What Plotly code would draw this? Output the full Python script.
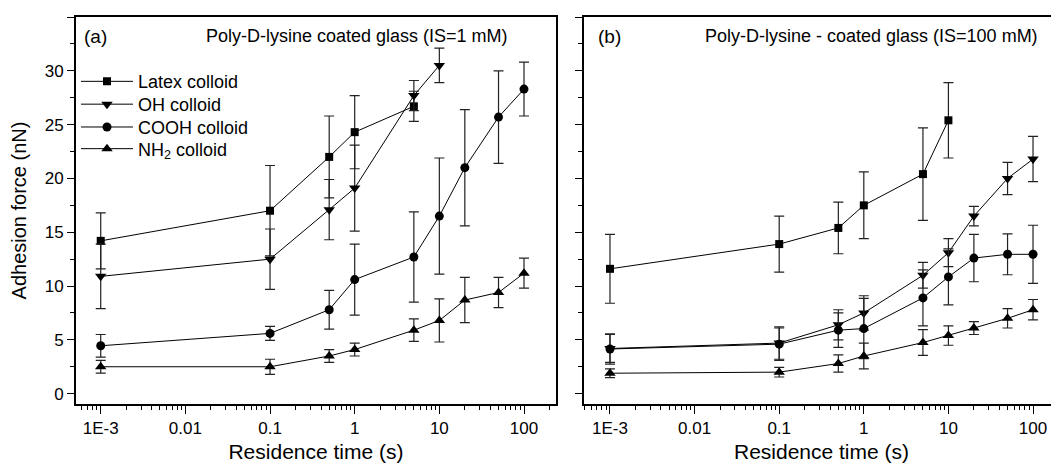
import plotly.graph_objects as go

# residence times (s)
t_all = [0.001, 0.1, 0.5, 1, 5, 10, 20, 50, 100]
t_latex_a = [0.001, 0.1, 0.5, 1, 5]
t_oh_a = [0.001, 0.1, 0.5, 1, 5, 10]
t_latex_b = [0.001, 0.1, 0.5, 1, 5, 10]

# (a) IS = 1 mM
latex_a = [14.2, 17.0, 22.0, 24.3, 26.7]
latex_a_err = [2.6, 4.2, 3.8, 3.4, 1.4]
oh_a = [10.9, 12.5, 17.1, 19.1, 27.7, 30.5]
oh_a_err = [3.0, 2.8, 2.8, 4.0, 1.4, 1.6]
cooh_a = [4.45, 5.6, 7.8, 10.6, 12.7, 16.5, 21.0, 25.7, 28.3]
cooh_a_err = [1.05, 0.65, 1.8, 3.3, 4.2, 5.4, 5.4, 4.3, 2.5]
nh2_a = [2.5, 2.5, 3.5, 4.1, 5.9, 6.8, 8.7, 9.4, 11.2]
nh2_a_err = [0.6, 0.7, 0.6, 0.6, 1.05, 2.0, 2.1, 1.4, 1.4]

# (b) IS = 100 mM
latex_b = [11.6, 13.9, 15.4, 17.5, 20.4, 25.4]
latex_b_err = [3.2, 2.6, 2.4, 3.1, 4.3, 3.5]
oh_b = [4.2, 4.7, 6.4, 7.5, 11.0, 13.1, 16.5, 20.0, 21.8]
oh_b_err = [1.3, 1.5, 1.4, 1.6, 1.2, 1.3, 0.9, 1.5, 2.1]
cooh_b = [4.15, 4.6, 5.9, 6.05, 8.9, 10.85, 12.6, 12.95, 12.95]
cooh_b_err = [1.4, 1.5, 1.6, 2.8, 2.6, 2.6, 2.2, 1.9, 2.7]
nh2_b = [1.9, 2.0, 2.8, 3.5, 4.75, 5.4, 6.1, 7.0, 7.8]
nh2_b_err = [0.4, 0.45, 0.8, 1.2, 1.2, 0.9, 0.6, 0.9, 0.95]

names = ['Latex colloid', 'OH colloid', 'COOH colloid', 'NH<sub>2</sub> colloid']
symbols = ['square', 'triangle-down', 'circle', 'triangle-up']
sizes = [8, 10, 9, 10]

tick_vals = [0.001, 0.01, 0.1, 1, 10, 100]
tick_text = ['1E-3', '0.01', '0.1', '1', '10', '100']

FONT = 'Liberation Sans, Arial, sans-serif'

panel_a = [(t_latex_a, latex_a, latex_a_err), (t_oh_a, oh_a, oh_a_err),
           (t_all, cooh_a, cooh_a_err), (t_all, nh2_a, nh2_a_err)]
panel_b = [(t_latex_b, latex_b, latex_b_err), (t_all, oh_b, oh_b_err),
           (t_all, cooh_b, cooh_b_err), (t_all, nh2_b, nh2_b_err)]

# one legend box per entry so the row spacing can match the original
legend_ids = ['legend', 'legend2', 'legend3', 'legend4']
legend_y = [0.833, 0.774, 0.715, 0.659]

fig = go.Figure()
for panel, xa, ya, show in [(panel_a, 'x', 'y', True), (panel_b, 'x2', 'y2', False)]:
    for i, (tx, vals, errs) in enumerate(panel):
        fig.add_trace(go.Scatter(
            x=tx, y=vals, xaxis=xa, yaxis=ya, name=names[i], showlegend=show,
            legend=legend_ids[i], mode='lines+markers',
            line=dict(color='black', width=1),
            marker=dict(symbol=symbols[i], size=sizes[i], color='black'),
            error_y=dict(type='data', array=errs, color='#222', thickness=1.2, width=5),
        ))

xcommon = dict(type='log', showline=True, linewidth=2, linecolor='black', mirror=True,
               ticks='outside', ticklen=8, tickwidth=1.2, tickcolor='black',
               tickvals=tick_vals, ticktext=tick_text, showgrid=False, zeroline=False,
               minor=dict(ticks='outside', ticklen=4, tickwidth=1, tickcolor='black', dtick='D1', showgrid=False),
               tickfont=dict(size=17, color='black'),
               title=dict(text='Residence time (s)', font=dict(size=21, color='black'), standoff=7))
ycommon = dict(range=[-0.96, 35], showline=True, linewidth=2, linecolor='black',
               ticks='outside', ticklen=7, tickwidth=1.2, tickcolor='black',
               dtick=5, tick0=0, showgrid=False, zeroline=False,
               minor=dict(ticks='outside', ticklen=4, tickwidth=1, tickcolor='black', dtick=2.5, tick0=0, showgrid=False),
               tickfont=dict(size=17, color='black'))

legend_style = dict(x=0.0, xanchor='left', yanchor='middle', bgcolor='rgba(0,0,0,0)',
                    font=dict(size=18, color='black'), itemwidth=52)

# page body adds an 8px offset, so margins are shifted to compensate
fig.update_layout(
    width=1059, height=464,
    margin=dict(l=68, r=8, t=9, b=68),
    paper_bgcolor='white', plot_bgcolor='white',
    font=dict(family=FONT, color='black'),
    xaxis=dict(xcommon, domain=[0, 0.4883], range=[-3.292, 2.378]),
    xaxis2=dict(xcommon, domain=[0.5168, 1], range=[-3.307, 2.307], anchor='y2'),
    yaxis=dict(ycommon, mirror=True,
               title=dict(text='Adhesion force (nN)', font=dict(size=20, color='black'), standoff=13)),
    yaxis2=dict(ycommon, anchor='x2', showticklabels=False, mirror=False),
    showlegend=True,
)
for lid, ly in zip(legend_ids, legend_y):
    fig.update_layout({lid: dict(legend_style, y=ly)})

fig.add_annotation(text='(a)', xref='x domain', yref='y domain', x=0.012, y=0.95,
                   xanchor='left', yanchor='middle', showarrow=False, font=dict(size=19))
fig.add_annotation(text='Poly-D-lysine coated glass (IS=1 mM)', xref='x domain', yref='y domain',
                   x=0.905, y=0.95, xanchor='right', yanchor='middle', showarrow=False, font=dict(size=18))
fig.add_annotation(text='(b)', xref='x2 domain', yref='y2 domain', x=0.025, y=0.95,
                   xanchor='left', yanchor='middle', showarrow=False, font=dict(size=19))
fig.add_annotation(text='Poly-D-lysine - coated glass (IS=100 mM)', xref='x2 domain', yref='y2 domain',
                   x=0.96, y=0.95, xanchor='right', yanchor='middle', showarrow=False, font=dict(size=18))

fig.write_html('out.html')
